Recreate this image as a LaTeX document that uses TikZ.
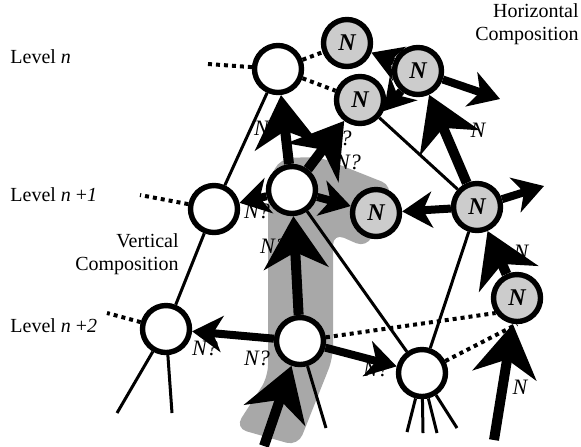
\documentclass[tikz,border=0pt]{standalone}
\usepackage{fontspec}
\setmainfont{Liberation Serif}
\usetikzlibrary{arrows.meta}
\definecolor{bandgray}{gray}{0.66}
\definecolor{nodegray}{gray}{0.8}

\begin{document}
\begin{tikzpicture}[x=0.5pt, y=-0.5pt,
    open/.style={circle, draw, line width=2.7pt, fill=white, minimum size=23.5pt, inner sep=0pt},
    known/.style={open, fill=nodegray, font=\fontsize{12}{12}\selectfont\bfseries\itshape},
    vert/.style={line width=5pt, -{Stealth[length=26pt, width=32pt, inset=8pt]}},
    horiz/.style={line width=4pt, -{Stealth[length=15pt, width=18pt, inset=4.5pt]}},
    link/.style={line width=1.5pt},
    dots/.style={line width=2pt, dash pattern=on 2pt off 2pt},
    lbl/.style={font=\fontsize{11}{11}\selectfont\itshape, inner sep=0pt},
    txt/.style={font=\fontsize{10}{11.5}\selectfont, inner sep=0pt}]
  \useasboundingbox (0,0) rectangle (581,446);
  \fill[bandgray, rounded corners=6pt] (268,183) -- (280,158) -- (320,157) -- (393,186) -- (367,248)
    -- (333,233) -- (333,358) -- (298,446) -- (235,428) -- (268,377) -- cycle;

  \node[txt, anchor=west] (lvn) at (10,57) {Level \textit{n}};
  \node[txt, anchor=west] (lvn1) at (10,195) {Level \textit{n} +\textit{1}};
  \node[txt, anchor=west] (lvn2) at (10,326) {Level \textit{n} +\textit{2}};
  \node[txt, anchor=east, align=right] (hcomp) at (579,24) {Horizontal\\Composition};
  \node[txt, anchor=east, align=right] (vcomp) at (179,254) {Vertical\\Composition};

  \node[open] (a) at (278,69) {};
  \node[known] (nt) at (347,43) {N};
  \node[known] (nr) at (418,71) {N};
  \node[known] (nm) at (360,100) {N};
  \node[open] (b) at (214,209) {};
  \node[open] (c) at (292,190) {};
  \node[known] (nc) at (376,213) {N};
  \node[known] (ng) at (477,207) {N};
  \node[open] (d) at (166,329) {};
  \node[open] (e) at (300,341) {};
  \node[open] (f) at (422,373) {};
  \node[known] (nl) at (517,298) {N};

  \coordinate (aw) at (208,64);
  \coordinate (bw) at (140,195);
  \coordinate (dw) at (107,313);
  \coordinate (d1) at (117,413);
  \coordinate (d2) at (172,413);
  \coordinate (e1) at (326,428);
  \coordinate (f1) at (407,432);
  \coordinate (f2) at (423,433);
  \coordinate (f3) at (437,433);
  \coordinate (f4) at (457,428);
  \coordinate (ein) at (264,446);
  \coordinate (nlin) at (494,440);
  \coordinate (nrout) at (500,99);
  \coordinate (ngout) at (544,186);

  \draw[link] (a) -- (b);
  \draw[link] (b) -- (d);
  \draw[link] (c) -- (f);
  \draw[link] (nm) -- (ng);
  \draw[link] (ng) -- (f);
  \draw[link] (d) -- (d1);
  \draw[link] (d) -- (d2);
  \draw[link] (e) -- (e1);
  \foreach \leg in {f1,f2,f3,f4}
    \draw[link] (f) -- (\leg);

  \draw[dots] (a) -- (aw);
  \draw[dots] (b) -- (bw);
  \draw[dots] (d) -- (dw);
  \draw[dots] (a) -- (nt);
  \draw[dots] (a) -- (nm);
  \draw[dots] (e) -- (nl.215);
  \draw[dots] (f) -- (nl.south);

  \node[lbl] (q1) at (267,128) {N?};
  \node[lbl] (q2) at (346,138) {?};
  \node[lbl] (q3) at (348,162) {N?};
  \node[lbl] (q4) at (257,211) {N?};
  \node[lbl] (q5) at (273,246) {N?};
  \node[lbl] (q6) at (205,348) {N?};
  \node[lbl] (q7) at (257,358) {N?};
  \node[lbl] (q8) at (376,369) {N?};
  \node[lbl] (k1) at (478,130) {N};
  \node[lbl] (k2) at (521,252) {N};
  \node[lbl] (k3) at (520,387) {N};

  \draw[vert] (c) -- (a);
  \draw[vert] (c) -- (nm);
  \draw[horiz] (c) -- (b);
  \draw[horiz] (c) -- (nc);
  \draw[vert] (e) -- (c);
  \draw[horiz] (e) -- (d);
  \draw[horiz] (e) -- (f);
  \draw[vert] (ein) -- (e);
  \draw[vert] (ng) -- (nr.-65);
  \draw[horiz] (nr) -- (nt);
  \draw[horiz] (nr.230) -- (nm.-25);
  \draw[horiz] (nr) -- (nrout);
  \draw[horiz] (ng) -- (nc);
  \draw[horiz] (ng) -- (ngout);
  \draw[vert] (nl) -- (ng);
  \draw[vert] (nlin) -- (nl);
\end{tikzpicture}
\end{document}
